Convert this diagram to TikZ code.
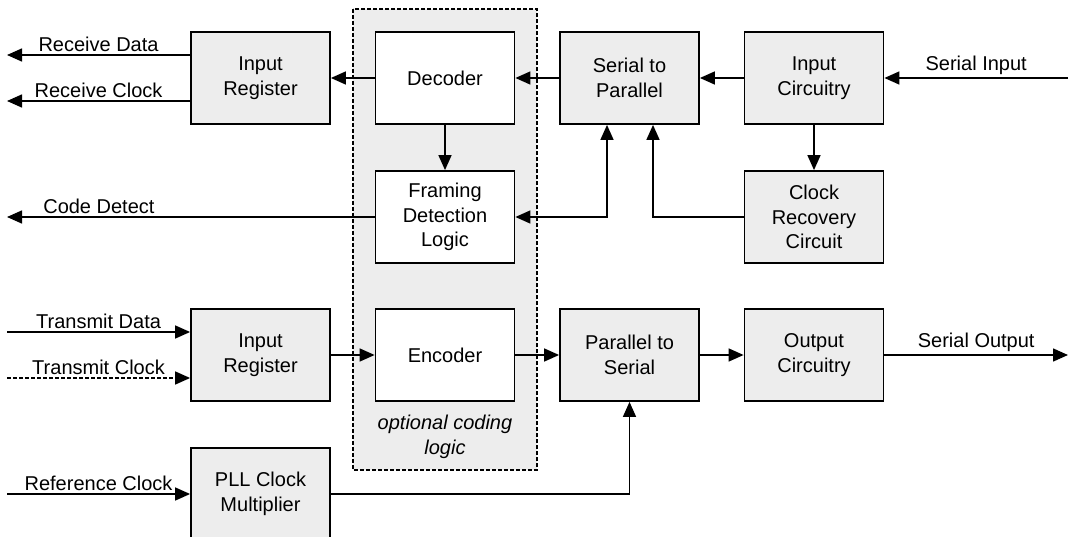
\documentclass[tikz,border=0pt]{standalone}
\usepackage{fontspec}
\setmainfont{Liberation Sans}
\usepackage{tikz}
\usetikzlibrary{arrows.meta,positioning,calc}
\definecolor{boxgray}{HTML}{EDEDED}

\begin{document}
\begin{tikzpicture}[x=1pt,y=-1pt,
    font=\fontsize{20}{24.5}\selectfont,
    block/.style={draw, line width=1.8pt, fill=boxgray, minimum width=139pt, minimum height=92pt, align=center, inner sep=2pt},
    codeblock/.style={block, fill=white},
    arr/.style={line width=1.5pt, -{Triangle[length=15pt,width=13pt]}},
    biarr/.style={line width=1.5pt, {Triangle[length=15pt,width=13pt]}-{Triangle[length=15pt,width=13pt]}},
    lbl/.style={above, inner sep=3pt}]
    \useasboundingbox (0,0) rectangle (1073,537);

    % optional coding area
    \fill[boxgray] (353,9) rectangle (537,470);
    \draw[line width=1.4pt, dash pattern=on 4pt off 2pt] (353,9) rectangle (537,470);

    % receive path
    \node[block] (inreg) at (260.5,78) {Input\\Register};
    \node[codeblock] (decoder) at (445,78) {Decoder};
    \node[codeblock] (framing) at (445,217) {Framing\\Detection\\Logic};
    \node[block] (s2p) at (629.5,78) {Serial to\\Parallel};
    \node[block] (incirc) at (814,78) {Input\\Circuitry};
    \node[block] (clkrec) at (814,217) {Clock\\Recovery\\Circuit};

    % transmit path
    \node[block] (txreg) at (260.5,355) {Input\\Register};
    \node[codeblock] (encoder) at (445,355) {Encoder};
    \node[block] (p2s) at (629.5,355) {Parallel to\\Serial};
    \node[block] (outcirc) at (814,355) {Output\\Circuitry};
    \node[block] (pll) at (260.5,494) {PLL Clock\\Multiplier};

    \node[align=center, font=\fontsize{20}{24.5}\selectfont\itshape] (optlbl) at (445,437) {optional coding\\logic};

    \coordinate (rxdata) at (7,55);
    \coordinate (rxclk) at (7,101);
    \coordinate (codedet) at (7,217);
    \coordinate (serin) at (1068,78);
    \coordinate (txdata) at (7,332);
    \coordinate (txclk) at (7,378);
    \coordinate (serout) at (1068,355);
    \coordinate (refclk) at (7,494);

    \draw[arr] ([yshift=23pt]inreg.west) -- node[lbl] {Receive Data} (rxdata);
    \draw[arr] ([yshift=-23pt]inreg.west) -- node[lbl] {Receive Clock} (rxclk);
    \draw[arr] (framing.west) -- (codedet) node[lbl, pos=0.75] {Code Detect};
    \draw[arr] (decoder) -- (inreg);
    \draw[arr] (decoder) -- (framing);
    \draw[arr] (s2p) -- (decoder);
    \draw[arr] (incirc) -- (s2p);
    \draw[arr] (serin) -- node[lbl] {Serial Input} (incirc);
    \draw[arr] (incirc) -- (clkrec);
    \draw[arr] (clkrec.west) -| ([xshift=23.5pt]s2p.south);
    \draw[biarr] ([xshift=-22.5pt]s2p.south) |- (framing.east);

    \draw[arr] (txdata) -- node[lbl] {Transmit Data} ([yshift=23pt]txreg.west);
    \draw[arr, dash pattern=on 4pt off 2pt] (txclk) -- node[lbl] {Transmit Clock} ([yshift=-23pt]txreg.west);
    \draw[arr] (txreg) -- (encoder);
    \draw[arr] (encoder) -- (p2s);
    \draw[arr] (p2s) -- (outcirc);
    \draw[arr] (outcirc) -- node[lbl] {Serial Output} (serout);
    \draw[arr] (refclk) -- node[lbl] {Reference Clock} (pll);
    \draw[arr] (pll.east) -| (p2s.south);
\end{tikzpicture}
\end{document}
